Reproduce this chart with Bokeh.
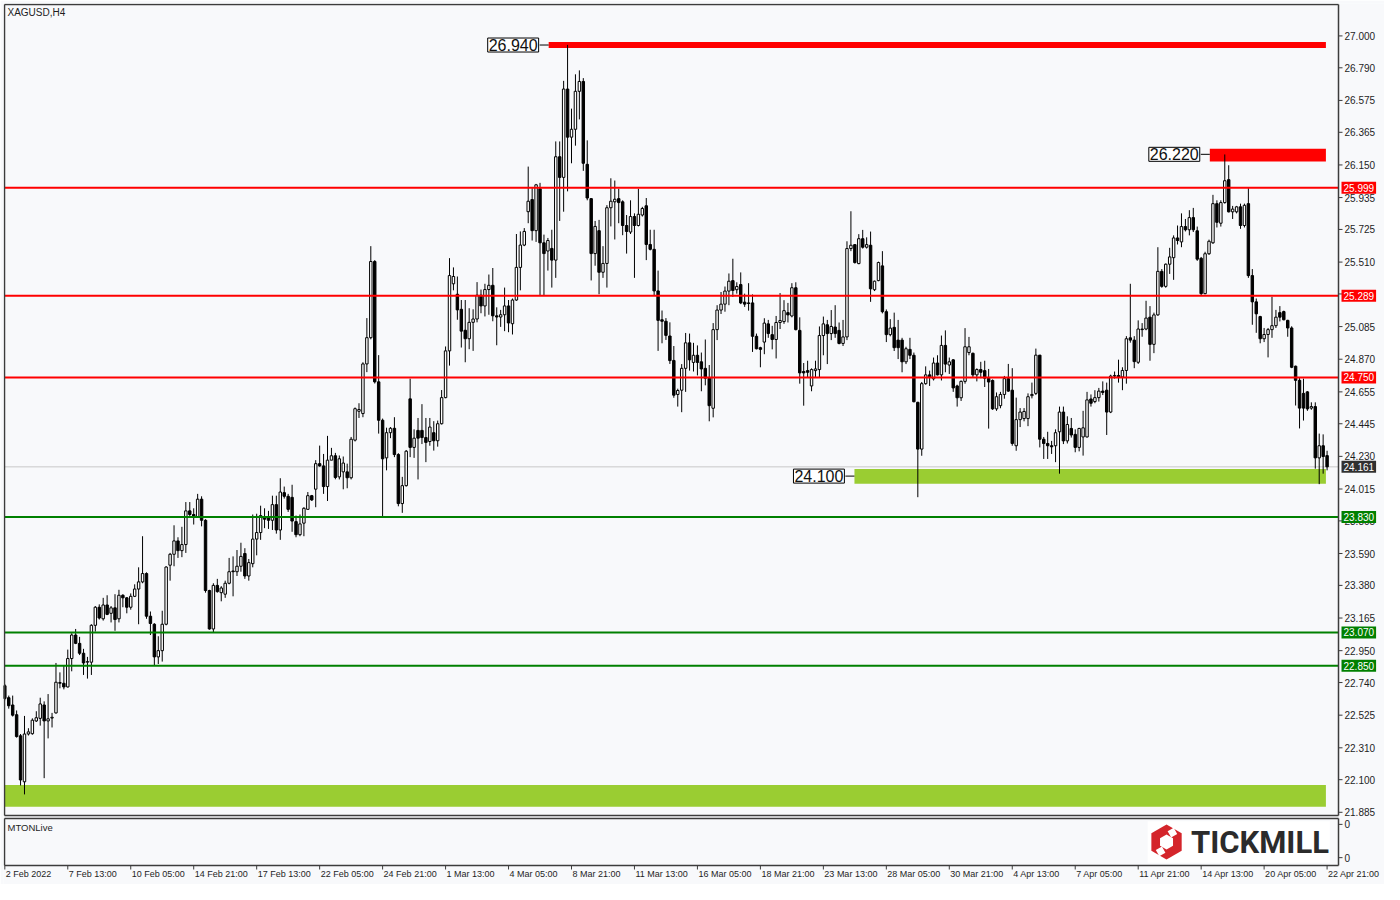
import numpy as np
from bokeh.plotting import figure
from bokeh.models import Range1d, Label, ColumnDataSource
from bokeh.embed import file_html
from bokeh.resources import INLINE
from bokeh.core.properties import value

# ---------------- data ----------------
chart_title = "XAGUSD,H4"
indicator_name = "MTONLive"
brand_name = "TICKMILL"

open_1 = [22.719, 22.640, 22.592, 22.528, 22.389, 22.086, 22.401, 22.403, 22.487, 22.504,
          22.592, 22.487, 22.506, 22.540, 22.735, 22.735, 22.711, 22.898, 23.053, 22.998,
          22.933, 22.874, 22.874, 23.117, 23.236, 23.160, 23.251, 23.196, 23.232, 23.160,
          23.315, 23.298, 23.236, 23.308, 23.356, 23.403, 23.458, 23.177, 23.124, 22.909,
          22.950, 23.124, 23.513, 23.585, 23.673, 23.609, 23.649, 23.871, 23.847, 23.833,
          23.948, 23.809, 23.346, 23.093, 23.380, 23.332, 23.322, 23.394, 23.475, 23.470,
          23.506, 23.590, 23.442, 23.523, 23.685, 23.728, 23.833, 23.824, 23.809, 23.912,
          23.745, 23.991, 23.967, 23.960, 23.800, 23.714, 23.790, 23.881, 23.971, 24.014,
          24.182, 24.167, 24.031, 24.205, 24.234]
high_1 = [22.730, 22.654, 22.654, 22.556, 22.401, 22.520, 22.439, 22.504, 22.551, 22.640,
          22.616, 22.664, 22.540, 22.869, 22.807, 22.850, 22.957, 23.065, 23.093, 23.041,
          22.962, 22.909, 23.124, 23.244, 23.255, 23.298, 23.315, 23.244, 23.322, 23.351,
          23.322, 23.303, 23.327, 23.387, 23.499, 23.704, 23.466, 23.208, 23.131, 23.045,
          23.213, 23.506, 23.594, 23.776, 23.697, 23.766, 23.929, 23.929, 23.888, 23.983,
          23.967, 23.816, 23.351, 23.394, 23.423, 23.375, 23.411, 23.561, 23.571, 23.613,
          23.661, 23.625, 23.554, 23.847, 23.852, 23.905, 23.888, 23.871, 23.971, 23.971,
          24.086, 24.031, 23.983, 24.043, 23.840, 23.847, 23.895, 23.995, 23.976, 24.205,
          24.301, 24.246, 24.365, 24.286, 24.253]
low_1 = [22.623, 22.568, 22.516, 22.377, 22.062, 22.003, 22.391, 22.396, 22.480, 22.456,
         22.110, 22.372, 22.444, 22.535, 22.702, 22.695, 22.707, 22.814, 22.993, 22.921,
         22.790, 22.766, 22.790, 23.076, 23.155, 23.148, 23.184, 23.136, 23.081, 23.136,
         23.236, 23.196, 23.220, 23.303, 23.124, 23.394, 23.160, 23.053, 22.855, 22.862,
         22.878, 23.117, 23.411, 23.506, 23.561, 23.566, 23.594, 23.824, 23.781, 23.824,
         23.769, 23.332, 23.088, 23.069, 23.332, 23.275, 23.298, 23.387, 23.308, 23.442,
         23.470, 23.423, 23.411, 23.499, 23.578, 23.680, 23.757, 23.752, 23.745, 23.721,
         23.680, 23.952, 23.864, 23.733, 23.697, 23.704, 23.704, 23.881, 23.936, 23.895,
         24.162, 23.983, 23.936, 24.205, 24.079]
close_1 = [22.635, 22.587, 22.525, 22.384, 22.098, 22.401, 22.415, 22.492, 22.508, 22.599,
           22.487, 22.501, 22.511, 22.742, 22.740, 22.711, 22.898, 23.053, 22.998, 22.933,
           22.869, 22.878, 23.117, 23.236, 23.165, 23.251, 23.189, 23.232, 23.155, 23.315,
           23.298, 23.236, 23.308, 23.356, 23.403, 23.458, 23.177, 23.129, 22.909, 22.950,
           23.124, 23.501, 23.585, 23.673, 23.609, 23.649, 23.871, 23.847, 23.833, 23.948,
           23.809, 23.346, 23.093, 23.380, 23.339, 23.363, 23.394, 23.470, 23.470, 23.506,
           23.571, 23.442, 23.530, 23.685, 23.728, 23.840, 23.816, 23.809, 23.912, 23.745,
           23.995, 23.967, 23.881, 23.804, 23.714, 23.785, 23.888, 23.971, 23.943, 24.182,
           24.167, 24.031, 24.205, 24.234, 24.091]

open_2 = [24.095, 24.128, 24.128, 24.089, 24.337, 24.527, 24.512, 24.839, 25.012, 25.514,
          24.721, 24.468, 24.220, 24.386, 24.415, 24.242, 23.919, 24.037, 24.609, 24.289,
          24.401, 24.401, 24.354, 24.328, 24.386, 24.333, 24.445, 24.617, 24.925, 25.367,
          25.298, 25.199, 25.061, 25.005, 25.113, 25.135, 25.292, 25.221, 25.329, 25.357,
          25.156, 25.148, 25.163, 25.221, 25.104, 25.260, 25.475, 25.622, 25.842, 25.922,
          25.717, 25.993, 25.637, 25.583, 25.600, 25.523, 26.204, 26.068, 26.650, 26.333,
          26.385, 26.635, 26.700, 26.154, 25.928, 25.566, 25.717, 25.443, 25.501, 25.868,
          25.907, 25.928, 25.907, 25.751, 25.708, 25.810, 25.751, 25.820, 25.881, 25.626,
          25.594, 25.320, 25.130, 25.120, 25.023]
high_2 = [24.236, 24.229, 24.182, 24.358, 24.552, 24.580, 24.850, 25.141, 25.615, 25.523,
          24.897, 24.479, 24.419, 24.423, 24.488, 24.251, 24.095, 24.272, 24.742, 24.408,
          24.483, 24.574, 24.483, 24.483, 24.462, 24.466, 24.667, 24.954, 25.536, 25.475,
          25.415, 25.260, 25.260, 25.206, 25.199, 25.378, 25.329, 25.367, 25.428, 25.471,
          25.212, 25.195, 25.342, 25.260, 25.270, 25.695, 25.712, 25.734, 26.139, 25.997,
          26.025, 26.032, 25.691, 25.669, 25.723, 26.305, 26.305, 26.704, 26.941, 26.521,
          26.747, 26.773, 26.722, 26.312, 25.932, 25.781, 25.788, 25.615, 25.885, 26.062,
          26.047, 25.993, 25.917, 25.820, 25.917, 25.831, 25.993, 25.874, 25.932, 25.723,
          25.723, 25.454, 25.191, 25.141, 25.113]
low_2 = [24.078, 24.013, 24.020, 24.078, 24.328, 24.483, 24.488, 24.785, 25.001, 24.710,
         24.380, 23.837, 24.138, 24.350, 24.225, 23.901, 23.858, 24.031, 24.225, 24.220,
         24.078, 24.311, 24.192, 24.300, 24.268, 24.294, 24.440, 24.613, 24.828, 25.324,
         25.130, 24.947, 24.850, 24.936, 24.925, 25.113, 25.173, 25.152, 25.163, 25.120,
         24.962, 25.083, 25.055, 25.048, 25.033, 25.255, 25.324, 25.615, 25.766, 25.652,
         25.643, 25.292, 25.292, 25.454, 25.342, 25.406, 25.781, 25.842, 25.976, 26.161,
         26.277, 26.450, 26.111, 25.917, 25.389, 25.486, 25.298, 25.406, 25.342, 25.745,
         25.659, 25.766, 25.687, 25.566, 25.695, 25.406, 25.745, 25.810, 25.523, 25.587,
         25.292, 24.925, 24.975, 24.997, 24.839]
close_2 = [24.214, 24.186, 24.089, 24.343, 24.544, 24.539, 24.839, 25.012, 25.514, 24.721,
           24.468, 24.214, 24.386, 24.415, 24.242, 23.919, 24.037, 24.264, 24.289, 24.350,
           24.350, 24.354, 24.322, 24.423, 24.333, 24.445, 24.617, 24.925, 25.421, 25.415,
           25.195, 25.055, 25.005, 25.113, 25.135, 25.292, 25.221, 25.329, 25.357, 25.156,
           25.148, 25.163, 25.221, 25.109, 25.260, 25.475, 25.622, 25.712, 25.911, 25.717,
           26.019, 25.637, 25.566, 25.652, 25.523, 26.204, 26.068, 26.650, 26.333, 26.385,
           26.635, 26.700, 26.161, 25.932, 25.566, 25.745, 25.443, 25.501, 25.868, 25.911,
           25.924, 25.902, 25.751, 25.712, 25.810, 25.751, 25.825, 25.863, 25.626, 25.594,
           25.320, 25.126, 25.120, 25.027, 24.861]

open_3 = [24.862, 24.638, 24.666, 24.810, 24.978, 24.849, 24.896, 24.853, 24.810, 24.745,
          24.547, 25.065, 25.194, 25.233, 25.319, 25.388, 25.328, 25.362, 25.246, 25.241,
          25.241, 25.021, 24.946, 24.983, 25.103, 25.032, 25.000, 25.112, 25.118, 25.177,
          25.155, 25.341, 25.060, 24.789, 24.795, 24.694, 24.795, 24.802, 25.026, 25.097,
          25.039, 25.082, 25.060, 24.974, 25.017, 25.599, 25.625, 25.500, 25.664, 25.608,
          25.621, 25.328, 25.388, 25.485, 25.183, 25.032, 25.080, 24.996, 24.996, 24.853,
          24.935, 24.896, 24.586, 24.278, 24.709, 24.767, 24.741, 24.845, 24.767, 24.961,
          24.832, 24.866, 24.694, 24.616, 24.724, 24.914, 24.909, 24.767, 24.802, 24.795,
          24.745, 24.730, 24.543, 24.564, 24.638]
high_3 = [24.957, 24.676, 24.838, 25.043, 25.039, 24.978, 24.961, 24.914, 25.000, 24.832,
          25.108, 25.226, 25.313, 25.349, 25.435, 25.532, 25.377, 25.442, 25.302, 25.371,
          25.297, 25.039, 24.952, 25.140, 25.129, 25.090, 25.155, 25.306, 25.259, 25.241,
          25.371, 25.377, 25.146, 24.845, 24.860, 24.810, 24.860, 25.086, 25.151, 25.129,
          25.194, 25.226, 25.112, 25.129, 25.647, 25.845, 25.629, 25.694, 25.722, 25.673,
          25.711, 25.388, 25.513, 25.582, 25.198, 25.134, 25.177, 25.129, 25.011, 24.952,
          25.011, 24.914, 24.590, 24.720, 24.823, 24.795, 24.881, 24.896, 25.026, 25.060,
          24.881, 24.871, 24.702, 24.730, 25.075, 25.017, 24.914, 24.810, 24.853, 24.860,
          24.806, 24.737, 24.651, 24.655, 24.760]
low_3 = [24.616, 24.558, 24.521, 24.655, 24.795, 24.789, 24.763, 24.659, 24.698, 24.461,
         24.487, 24.996, 25.168, 25.183, 25.226, 25.280, 25.302, 25.233, 25.215, 25.190,
         24.918, 24.935, 24.817, 24.903, 25.011, 24.935, 24.875, 25.069, 25.103, 25.112,
         25.146, 25.060, 24.709, 24.564, 24.752, 24.659, 24.752, 24.752, 24.896, 24.838,
         24.996, 25.011, 24.968, 24.957, 24.996, 25.582, 25.500, 25.496, 25.599, 25.599,
         25.248, 25.319, 25.384, 25.172, 24.983, 25.021, 24.924, 24.871, 24.784, 24.838,
         24.871, 24.586, 23.961, 24.234, 24.702, 24.694, 24.730, 24.763, 24.730, 24.784,
         24.773, 24.655, 24.558, 24.595, 24.709, 24.896, 24.752, 24.724, 24.745, 24.687,
         24.413, 24.536, 24.530, 24.547, 24.610]
close_3 = [24.633, 24.664, 24.810, 24.978, 24.866, 24.896, 24.849, 24.806, 24.745, 24.564,
           25.065, 25.194, 25.233, 25.319, 25.384, 25.323, 25.349, 25.241, 25.233, 25.237,
           25.021, 24.939, 24.935, 25.108, 25.039, 25.000, 25.112, 25.125, 25.190, 25.162,
           25.341, 25.065, 24.780, 24.780, 24.784, 24.802, 24.806, 25.026, 25.103, 25.039,
           25.086, 25.039, 24.974, 25.017, 25.599, 25.621, 25.507, 25.664, 25.608, 25.625,
           25.334, 25.384, 25.507, 25.183, 25.032, 25.075, 24.946, 24.946, 24.853, 24.939,
           24.896, 24.590, 24.278, 24.709, 24.767, 24.752, 24.845, 24.767, 24.961, 24.838,
           24.853, 24.681, 24.616, 24.724, 24.952, 24.952, 24.767, 24.802, 24.784, 24.745,
           24.720, 24.543, 24.623, 24.638, 24.742]

open_4 = [24.742, 24.666, 24.300, 24.472, 24.479, 24.479, 24.630, 24.645, 24.897, 24.343,
          24.315, 24.300, 24.300, 24.392, 24.522, 24.332, 24.414, 24.375, 24.289, 24.358,
          24.358, 24.608, 24.591, 24.617, 24.660, 24.666, 24.522, 24.759, 24.763, 24.753,
          24.796, 25.011, 24.996, 24.850, 25.069, 25.069, 25.147, 24.968, 25.162, 25.449,
          25.350, 25.496, 25.539, 25.669, 25.643, 25.744, 25.723, 25.803, 25.716, 25.535,
          25.302, 25.565, 25.637, 25.895, 25.766, 25.902, 26.053, 25.841, 25.841, 25.874,
          25.751, 25.895, 25.421, 25.248, 25.151, 25.005, 25.033, 25.065, 25.091, 25.177,
          25.184, 25.126, 25.076, 24.824, 24.731, 24.645, 24.655, 24.548, 24.558, 24.220,
          24.300, 24.235]
high_4 = [24.839, 24.811, 24.617, 24.548, 24.548, 24.645, 24.716, 24.940, 24.897, 24.358,
          24.392, 24.332, 24.408, 24.558, 24.558, 24.494, 24.483, 24.408, 24.418, 24.530,
          24.655, 24.638, 24.666, 24.681, 24.724, 24.716, 24.768, 24.789, 24.867, 24.817,
          25.022, 25.367, 25.022, 25.126, 25.108, 25.255, 25.220, 25.177, 25.608, 25.464,
          25.501, 25.604, 25.686, 25.751, 25.831, 25.794, 25.852, 25.867, 25.744, 25.544,
          25.578, 25.658, 25.953, 25.917, 25.917, 26.219, 26.148, 25.880, 25.880, 25.895,
          25.895, 25.997, 25.464, 25.270, 25.156, 25.076, 25.076, 25.281, 25.195, 25.220,
          25.190, 25.130, 25.087, 24.828, 24.746, 24.742, 24.660, 24.586, 24.586, 24.380,
          24.375, 24.267]
low_4 = [24.655, 24.300, 24.267, 24.423, 24.461, 24.429, 24.612, 24.634, 24.289, 24.213,
         24.213, 24.246, 24.192, 24.116, 24.311, 24.315, 24.354, 24.257, 24.263, 24.235,
         24.354, 24.558, 24.580, 24.591, 24.634, 24.371, 24.515, 24.742, 24.716, 24.666,
         24.709, 24.979, 24.811, 24.839, 25.018, 25.061, 24.860, 24.910, 25.156, 25.341,
         25.341, 25.432, 25.393, 25.626, 25.608, 25.712, 25.686, 25.708, 25.518, 25.292,
         25.298, 25.557, 25.630, 25.738, 25.744, 25.895, 25.837, 25.794, 25.831, 25.729,
         25.738, 25.406, 25.097, 25.044, 24.975, 24.983, 24.882, 25.011, 25.076, 25.119,
         25.126, 25.018, 24.811, 24.565, 24.414, 24.466, 24.530, 24.537, 24.149, 24.047,
         24.116, 24.138]
close_4 = [24.660, 24.315, 24.472, 24.522, 24.526, 24.623, 24.638, 24.897, 24.343, 24.315,
           24.300, 24.293, 24.386, 24.522, 24.332, 24.440, 24.371, 24.289, 24.414, 24.418,
           24.602, 24.580, 24.617, 24.660, 24.651, 24.522, 24.759, 24.763, 24.753, 24.796,
           25.005, 24.996, 24.854, 25.069, 25.065, 25.141, 24.968, 25.162, 25.449, 25.350,
           25.496, 25.544, 25.669, 25.652, 25.744, 25.723, 25.803, 25.723, 25.529, 25.302,
           25.565, 25.647, 25.895, 25.772, 25.902, 26.046, 25.841, 25.859, 25.874, 25.751,
           25.884, 25.421, 25.248, 25.169, 25.005, 25.033, 25.065, 25.091, 25.147, 25.147,
           25.130, 25.076, 24.817, 24.731, 24.548, 24.548, 24.543, 24.558, 24.220, 24.300,
           24.229, 24.161]

price_ticks = [27.000, 26.790, 26.575, 26.365, 26.150, 25.935, 25.725, 25.510, 25.300,
               25.085, 24.870, 24.655, 24.445, 24.230, 24.015, 23.805, 23.590, 23.380,
               23.165, 22.950, 22.740, 22.525, 22.310, 22.100, 21.885]
time_labels = ["2 Feb 2022", "7 Feb 13:00", "10 Feb 05:00", "14 Feb 21:00", "17 Feb 13:00",
               "22 Feb 05:00", "24 Feb 21:00", "1 Mar 13:00", "4 Mar 05:00", "8 Mar 21:00",
               "11 Mar 13:00", "16 Mar 05:00", "18 Mar 21:00", "23 Mar 13:00", "28 Mar 05:00",
               "30 Mar 21:00", "4 Apr 13:00", "7 Apr 05:00", "11 Apr 21:00", "14 Apr 13:00",
               "20 Apr 05:00", "22 Apr 21:00"]
bars_per_time_label = 16

resistance_levels = [25.999, 25.289, 24.750]
support_levels = [23.830, 23.070, 22.850]
last_price = 24.161

zone_label_values = [26.940, 26.220, 24.100]
zone_tops = [26.960, 26.256, 24.147, 22.065]
zone_bottoms = [26.920, 26.172, 24.050, 21.922]
zone_kinds = ["res", "res", "sup", "sup"]

price_top, price_bottom = 27.207, 21.864

# ---------------- layout / style ----------------
BG = "#f8f9fb"
FONT = "Liberation Sans"
TXT = "#1e1e1e"
EDGE = "#3c3c3c"
RED = "#ff0000"
GREEN = "#008000"
ZONE_GREEN = "#9acd32"

TOTAL_W, TOTAL_H = 1381, 881          # frame size (page adds 3px border top/left)
PLOT_W, MAIN_H = 1334, 811            # candle area
X0, X1 = -0.08, 338.9                 # candle index range of the plot area
ppx = PLOT_W / (X1 - X0)
ppy = MAIN_H / (price_top - price_bottom)
XS = X0 - 1.0 / ppx
XE = XS + TOTAL_W / ppx
YT = price_top + 1.0 / ppy
YB = YT - TOTAL_H / ppy


def xpx(dx):  # screen pixel offset -> index units
    return dx / ppx


def ypx(py):  # pixel row from frame top -> price units
    return YT - py / ppy


SUB_TOP, SUB_BOT = ypx(815), ypx(862)


def sub_y(frac):
    return SUB_BOT + frac * (SUB_TOP - SUB_BOT)


zone_left = [138.2, 306.2, 215.9, X0]
zone_right = 335.7
label_gap = 2.3

opens = np.array(open_1 + open_2 + open_3 + open_4)
highs = np.array(high_1 + high_2 + high_3 + high_4)
lows = np.array(low_1 + low_2 + low_3 + low_4)
closes = np.array(close_1 + close_2 + close_3 + close_4)
idx = np.arange(len(opens))
bull = closes >= opens

src = ColumnDataSource(dict(
    x=idx, o=opens, h=highs, l=lows, c=closes,
    top=np.maximum(opens, closes), bottom=np.minimum(opens, closes),
    fill=np.where(bull, "#ffffff", "#000000"),
))

p = figure(frame_width=TOTAL_W, frame_height=TOTAL_H,
           x_range=Range1d(XS, XE), y_range=Range1d(YB, YT),
           x_axis_location=None, y_axis_location=None,
           toolbar_location=None, output_backend="svg",
           background_fill_color=BG, border_fill_color=BG,
           min_border_left=3, min_border_top=3, min_border_bottom=0, min_border_right=0)
p.grid.visible = False
p.outline_line_color = None

# zones (behind candles)
for i, (t, b, k) in enumerate(zip(zone_tops, zone_bottoms, zone_kinds)):
    p.quad(left=zone_left[i], right=zone_right, bottom=b, top=t,
           fill_color=RED if k == "res" else ZONE_GREEN, line_color=None)

# last price line
p.segment(x0=X0, x1=X1, y0=last_price, y1=last_price, line_color="#c8c8c8", line_width=1)

# candles
p.segment(x0="x", y0="l", x1="x", y1="h", line_color="black", line_width=1, source=src)
p.vbar(x="x", width=0.62, top="top", bottom="bottom", fill_color="fill",
       line_color="black", line_width=1, source=src)

# horizontal levels
p.segment(x0=X0, x1=X1, y0=resistance_levels, y1=resistance_levels, line_color=RED, line_width=2)
p.segment(x0=X0, x1=X1, y0=support_levels, y1=support_levels, line_color=GREEN, line_width=2)

# panel borders
p.segment(x0=[X0, X0, X0, X1], x1=[X1, X1, X0, X1],
          y0=[price_top, price_bottom, price_top, price_top],
          y1=[price_top, price_bottom, price_bottom, price_bottom],
          line_color=EDGE, line_width=1.5)
p.segment(x0=[X0, X0, X0, X1], x1=[X1, X1, X0, X1],
          y0=[SUB_TOP, SUB_BOT, SUB_TOP, SUB_TOP],
          y1=[SUB_TOP, SUB_BOT, SUB_BOT, SUB_BOT],
          line_color=EDGE, line_width=1.5)

# price axis: ticks and labels
p.segment(x0=X1, x1=X1 + xpx(4), y0=price_ticks, y1=price_ticks, line_color=EDGE, line_width=1)
p.text(x=[X1 + xpx(6)] * len(price_ticks), y=price_ticks,
       text=[f"{t:.3f}" for t in price_ticks], text_align="left", text_baseline="middle",
       text_font=value(FONT), text_font_size=value("10px"), text_color=TXT)

# zone value boxes with connector
for i, v in enumerate(zone_label_values):
    p.segment(x0=zone_left[i] - label_gap, x1=zone_left[i], y0=v, y1=v,
              line_color="black", line_width=1)
    p.add_layout(Label(x=zone_left[i] - label_gap, y=v, x_offset=-1, text=f"{v:.3f}",
                       text_align="right", text_baseline="middle",
                       text_font=FONT, text_font_size="16px", text_color="#111111",
                       background_fill_color="white", border_line_color="black",
                       border_line_width=1, padding=1))

# price tags on the right axis
tags = [(v, RED) for v in resistance_levels] + [(v, GREEN) for v in support_levels] + \
       [(last_price, "#303030")]
for v, col in tags:
    p.add_layout(Label(x=X1 + xpx(3), y=v, text=f"{v:.3f}", text_align="left",
                       text_baseline="middle", text_font=FONT, text_font_size="10px",
                       text_color="white", background_fill_color=col, padding=2))

p.add_layout(Label(x=X0 + xpx(3), y=price_top - 0.018, text=chart_title, text_align="left",
                   text_baseline="top", text_font=FONT, text_font_size="10px",
                   text_color=TXT))

# ---------------- sub panel ----------------
sub_ticks = [sub_y(0.167), sub_y(0.875)]
p.segment(x0=X1, x1=X1 + xpx(4), y0=sub_ticks, y1=sub_ticks, line_color=EDGE, line_width=1)
p.text(x=[X1 + xpx(6)] * 2, y=sub_ticks, text=["0", "0"], text_align="left",
       text_baseline="middle", text_font=value(FONT), text_font_size=value("10px"),
       text_color=TXT)

p.text(x=[X0 + xpx(3)], y=[sub_y(0.93)], text=[indicator_name], text_align="left",
       text_baseline="top", text_font=value(FONT), text_font_size=value("9.5px"),
       text_color=TXT)

# time axis
tick_idx = [i * bars_per_time_label for i in range(len(time_labels))]
p.segment(x0=tick_idx, x1=tick_idx, y0=[SUB_BOT] * len(tick_idx),
          y1=[SUB_BOT - 4 / ppy] * len(tick_idx), line_color=EDGE, line_width=1)
p.text(x=[t + xpx(1) for t in tick_idx], y=[SUB_BOT - 3 / ppy] * len(tick_idx),
       text=time_labels, text_align="left", text_baseline="top",
       text_font=value(FONT), text_font_size=value("9px"), text_color=TXT)

# brand logo
p.quad(left=290.4, right=336.7, bottom=sub_y(0.06), top=sub_y(0.94),
       fill_color="white", line_color=None)
p.scatter(x=[295.2], y=[sub_y(0.5)], marker="hex", size=35, angle=np.pi / 6,
          fill_color="#d4252b", line_color=None)
p.scatter(x=[295.2], y=[sub_y(0.5)], marker="hex", size=15, angle=np.pi / 6,
          fill_color="white", line_color=None)
p.scatter(x=[296.7, 293.7], y=[sub_y(0.70), sub_y(0.30)], marker="square", size=7,
          angle=np.pi / 6, fill_color="white", line_color=None)
p.text(x=[301.4], y=[sub_y(0.5)], text=[brand_name], text_align="left",
       text_baseline="middle", text_font=value("Roboto"), text_font_style="bold",
       text_font_size=value("31px"), text_color="#2b2b2b")

open("out.html", "w").write(file_html(p, INLINE))
